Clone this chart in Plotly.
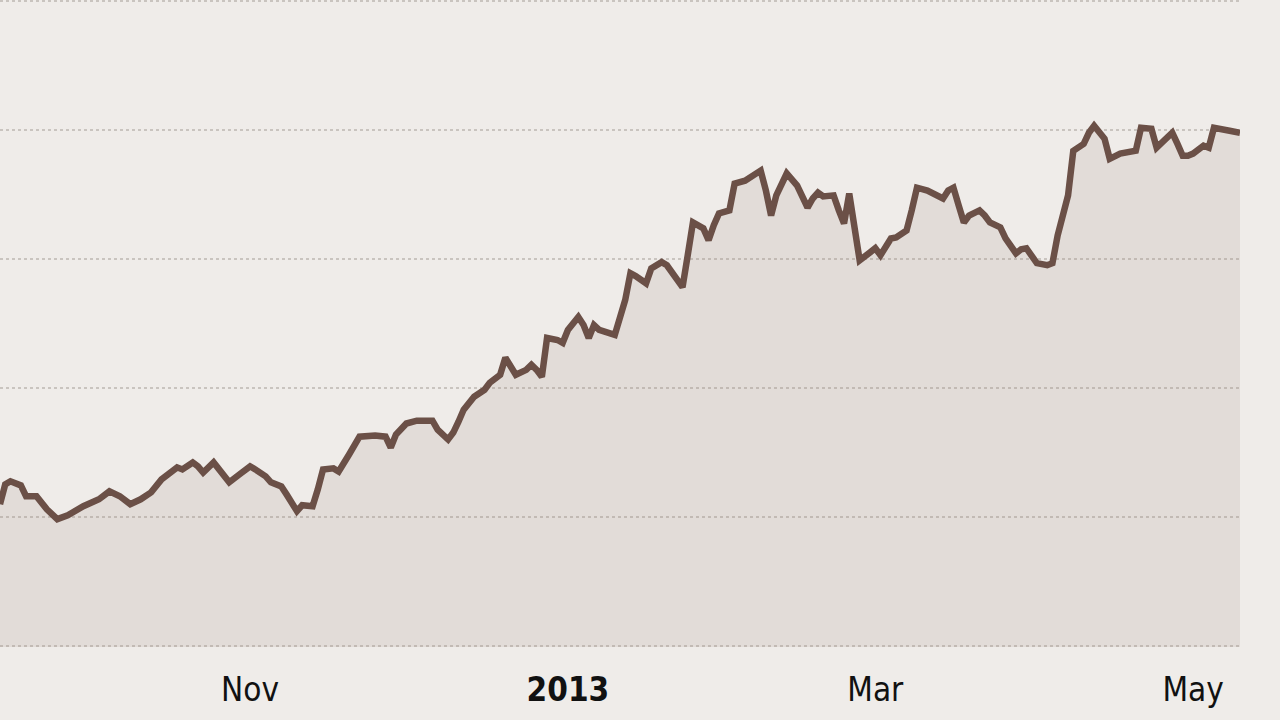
import plotly.graph_objects as go

# share price (Sep 2012 - May 2013)
dates = [
    "2012-09-14", "2012-09-15", "2012-09-16", "2012-09-18", "2012-09-19", "2012-09-21",
    "2012-09-23", "2012-09-25", "2012-09-27", "2012-09-30", "2012-10-03", "2012-10-05",
    "2012-10-07", "2012-10-09", "2012-10-11", "2012-10-13", "2012-10-15", "2012-10-18",
    "2012-10-19", "2012-10-21", "2012-10-22", "2012-10-23", "2012-10-25", "2012-10-26",
    "2012-10-28", "2012-10-30", "2012-11-01", "2012-11-02", "2012-11-04", "2012-11-05",
    "2012-11-07", "2012-11-08", "2012-11-10", "2012-11-11", "2012-11-13", "2012-11-14",
    "2012-11-15", "2012-11-17", "2012-11-18", "2012-11-20", "2012-11-22", "2012-11-25",
    "2012-11-27", "2012-11-28", "2012-11-29", "2012-12-01", "2012-12-03", "2012-12-06",
    "2012-12-07", "2012-12-09", "2012-12-10", "2012-12-11", "2012-12-12", "2012-12-14",
    "2012-12-16", "2012-12-17", "2012-12-19", "2012-12-20", "2012-12-21", "2012-12-22",
    "2012-12-24", "2012-12-25", "2012-12-26", "2012-12-27", "2012-12-28", "2012-12-30",
    "2012-12-31", "2013-01-01", "2013-01-03", "2013-01-04", "2013-01-05", "2013-01-06",
    "2013-01-07", "2013-01-09", "2013-01-10", "2013-01-12", "2013-01-13", "2013-01-14",
    "2013-01-16", "2013-01-17", "2013-01-19", "2013-01-20", "2013-01-22", "2013-01-23",
    "2013-01-24", "2013-01-25", "2013-01-27", "2013-01-28", "2013-01-29", "2013-01-30",
    "2013-02-01", "2013-02-02", "2013-02-04", "2013-02-05", "2013-02-06", "2013-02-07",
    "2013-02-08", "2013-02-09", "2013-02-10", "2013-02-12", "2013-02-14", "2013-02-16",
    "2013-02-17", "2013-02-18", "2013-02-19", "2013-02-21", "2013-02-22", "2013-02-23",
    "2013-02-24", "2013-02-25", "2013-02-26", "2013-02-28", "2013-03-01", "2013-03-02",
    "2013-03-03", "2013-03-04", "2013-03-05", "2013-03-07", "2013-03-08", "2013-03-09",
    "2013-03-11", "2013-03-12", "2013-03-13", "2013-03-14", "2013-03-15", "2013-03-16",
    "2013-03-17", "2013-03-18", "2013-03-19", "2013-03-21", "2013-03-22", "2013-03-23",
    "2013-03-25", "2013-03-26", "2013-03-28", "2013-03-29", "2013-03-30", "2013-03-31",
    "2013-04-01", "2013-04-03", "2013-04-04", "2013-04-05", "2013-04-07", "2013-04-08",
    "2013-04-10", "2013-04-11", "2013-04-12", "2013-04-14", "2013-04-15", "2013-04-17",
    "2013-04-18", "2013-04-19", "2013-04-20", "2013-04-21", "2013-04-23", "2013-04-24",
    "2013-04-26", "2013-04-27", "2013-04-28", "2013-04-29", "2013-04-30", "2013-05-01",
    "2013-05-03", "2013-05-04", "2013-05-05", "2013-05-07", "2013-05-08", "2013-05-10",
]
prices = [
    35.49, 36.26, 36.38, 36.22, 35.80, 35.80,
    35.29, 34.91, 35.06, 35.41, 35.68, 35.99,
    35.80, 35.49, 35.68, 35.95, 36.45, 36.92,
    36.84, 37.11, 36.96, 36.72, 37.11, 36.84,
    36.34, 36.65, 36.96, 36.84, 36.57, 36.34,
    36.18, 35.87, 35.22, 35.45, 35.41, 36.07,
    36.84, 36.88, 36.76, 37.42, 38.11, 38.15,
    38.11, 37.69, 38.19, 38.62, 38.73, 38.73,
    38.38, 38.00, 38.27, 38.69, 39.16, 39.66,
    39.93, 40.20, 40.51, 41.17, 40.78, 40.51,
    40.70, 40.90, 40.70, 40.43, 41.94, 41.86,
    41.75, 42.25, 42.75, 42.44, 41.94, 42.44,
    42.25, 42.13, 42.06, 43.41, 44.45, 44.34,
    44.06, 44.64, 44.88, 44.76, 44.18, 43.91,
    45.15, 46.42, 46.19, 45.73, 46.31, 46.77,
    46.89, 47.93, 48.04, 48.16, 48.32, 48.43,
    47.66, 46.69, 47.47, 48.32, 47.85, 47.00,
    47.35, 47.58, 47.43, 47.47, 46.89, 46.38,
    47.54, 46.31, 44.95, 45.26, 45.42, 45.15,
    45.53, 45.80, 45.84, 46.11, 46.89, 47.77,
    47.66, 47.54, 47.47, 47.35, 47.66, 47.77,
    47.08, 46.42, 46.69, 46.89, 46.69, 46.42,
    46.23, 45.80, 45.22, 45.38, 45.42, 45.15,
    44.84, 44.76, 44.84, 45.92, 47.47, 49.20,
    49.47, 49.90, 50.17, 49.67, 48.89, 49.09,
    49.13, 49.13, 49.20, 50.09, 50.05, 49.32,
    49.74, 49.90, 49.47, 49.01, 49.01, 49.09,
    49.40, 49.32, 50.09, 49.98, 49.98, 49.90,
]

tick_dates = ["2012-11-01", "2013-01-01", "2013-03-01", "2013-05-01"]
tick_labels = ["Nov", "<b>2013</b>", "Mar", "May"]

BG = "#efece9"
LINE = "#6b5047"

fig = go.Figure()
fig.add_trace(go.Scatter(
    x=dates, y=prices,
    mode="lines",
    line=dict(color=LINE, width=6.5),
    fill="tozeroy",
    fillcolor="rgba(152,136,120,0.15)",
    hovertemplate="%{x|%d %b %Y}: %{y:.2f}<extra></extra>",
    showlegend=False,
))

fig.update_layout(
    width=1280, height=720,
    margin=dict(l=0, r=40, t=0, b=73),
    paper_bgcolor=BG,
    plot_bgcolor=BG,
    font=dict(family="Liberation Sans Narrow, DejaVu Sans Condensed, Arial Narrow, sans-serif",
              size=33, color="#111111"),
    xaxis=dict(
        type="date",
        range=["2012-09-14", "2013-05-10"],
        tickvals=tick_dates,
        ticktext=tick_labels,
        showgrid=False,
        zeroline=False,
        showline=False,
        ticks="",
        ticklabelstandoff=20,
    ),
    yaxis=dict(
        range=[29.95, 55.05],
        tickvals=[30, 35, 40, 45, 50, 55],
        showticklabels=False,
        showgrid=True,
        gridcolor="#c9c4bf",
        griddash="dot",
        gridwidth=1.5,
        zeroline=False,
        showline=False,
    ),
)

# the page body has a default 8px margin; drop it so the chart fills the window
fig.write_html(
    "out.html",
    config={"displayModeBar": False},
    post_script="document.body.style.margin='0';"
                "document.body.style.background='" + BG + "';",
)
